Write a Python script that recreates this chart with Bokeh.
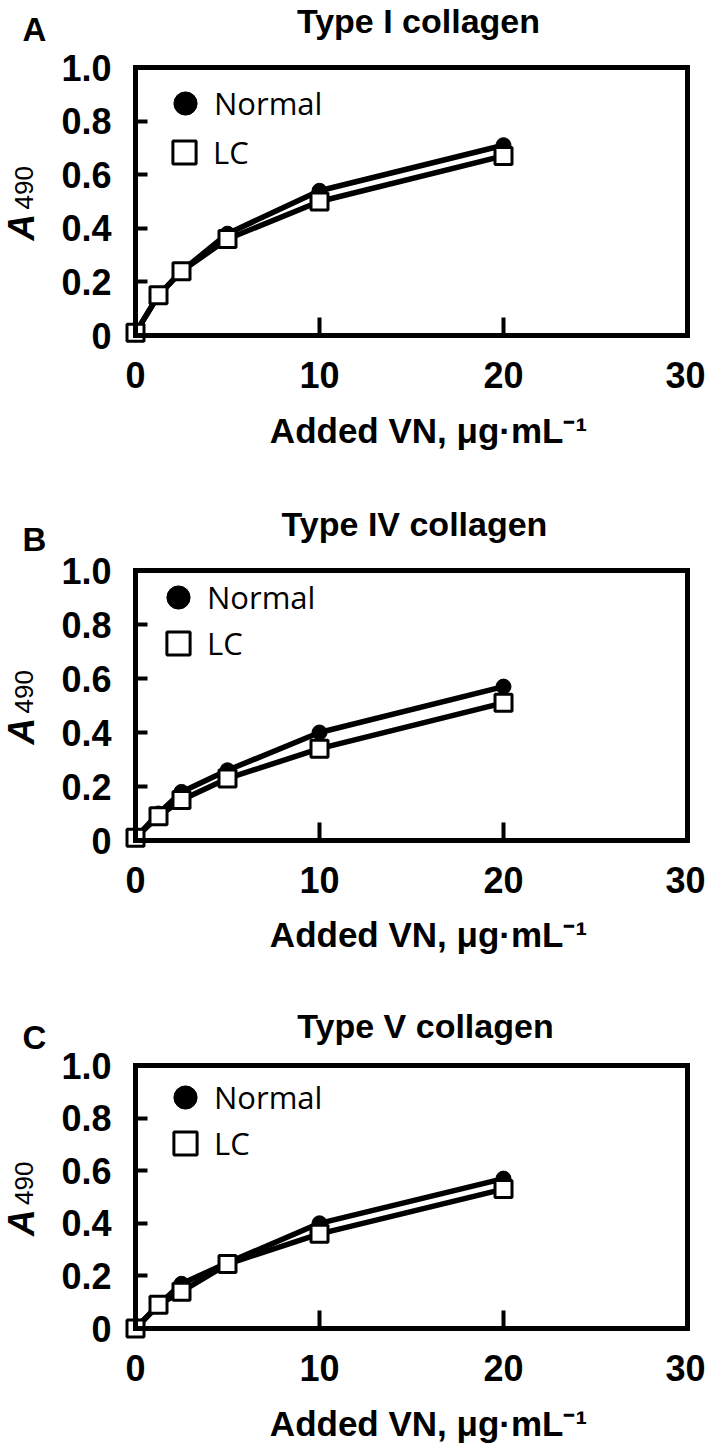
import math
from bokeh.plotting import figure
from bokeh.layouts import column
from bokeh.models import Label, Legend, LegendItem, FixedTicker, Range1d, LinearAxis
from bokeh.embed import file_html
from bokeh.resources import INLINE

# ---------------- data ----------------
vn_conc = [0, 1.25, 2.5, 5, 10, 20]          # added VN, ug/mL
panel_letters = ["A", "B", "C"]
panel_titles = ["Type I collagen", "Type IV collagen", "Type V collagen"]
normal_A = [0.01, 0.15, 0.24, 0.38, 0.54, 0.71]
lc_A = [0.01, 0.15, 0.24, 0.36, 0.50, 0.67]
normal_B = [0.01, 0.10, 0.18, 0.26, 0.40, 0.57]
lc_B = [0.01, 0.09, 0.15, 0.23, 0.34, 0.51]
normal_C = [0.0, 0.09, 0.17, 0.25, 0.40, 0.57]
lc_C = [0.0, 0.09, 0.14, 0.245, 0.36, 0.53]
series_names = ["Normal", "LC"]
x_ticks = [0, 10, 20, 30]
x_tick_labels = ["0", "10", "20", "30"]
y_ticks = [0, 0.2, 0.4, 0.6, 0.8, 1.0]
y_tick_labels = ["0", "0.2", "0.4", "0.6", "0.8", "1.0"]
x_label = "Added VN, \u03bcg\u00b7mL\u207b\u00b9"
y_label_main = "A"
y_label_sub = "490"
X_MIN, X_MAX = 0, 30
Y_MIN, Y_MAX = 0, 1.0

normals = [normal_A, normal_B, normal_C]
lcs = [lc_A, lc_B, lc_C]

# ---------------- layout / style (page pixels) ----------------
SANS_B = "'Liberation Sans', Arial, sans-serif"
PLAIN = "'Open Sans', 'Noto Sans', sans-serif"

W = 705
FRAME_L, FRAME_R = 135, 687
fig_top = [0, 500, 995]
fig_h = [500, 495, 452]
frame_top = [67, 570, 1065]
frame_bot = [335, 840, 1328]
title_x = [418, 414, 425]
title_base = [34, 537, 1039]
letter_base = [42, 552, 1050]
xlabel_x = 428
xlabel_base = [444, 948, 1437]
legend_circle = [(185, 103), (178, 597), (185, 1097)]
legend_square = [(184, 152), (178, 643), (185, 1143)]
GL = 58
BASE_SHIFT = 0.4   # label baseline correction, fraction of font size

TITLE_FS, LETTER_FS, XLAB_FS, YA_FS, YSUB_FS = 34, 33, 35, 37, 26

figs = []
for i in range(3):
    H = fig_h[i]
    ft = frame_top[i] - fig_top[i]
    fb = frame_bot[i] - fig_top[i]
    ppy = (fb - ft) / (Y_MAX - Y_MIN)
    ppx = (FRAME_R - FRAME_L) / (X_MAX - X_MIN)
    xr = Range1d(X_MIN - FRAME_L / ppx, X_MAX + (W - FRAME_R) / ppx)
    yr = Range1d(Y_MIN - (H - fb) / ppy, Y_MAX + ft / ppy)

    def sy(page_y):
        return H - (page_y - fig_top[i])

    p = figure(width=W, height=H, x_range=xr, y_range=yr,
               output_backend="svg", toolbar_location=None,
               min_border=0, min_border_left=0, min_border_right=0,
               min_border_top=0, min_border_bottom=0)
    p.title.visible = False
    p.background_fill_color = "white"
    p.border_fill_color = "white"
    p.grid.visible = False
    p.outline_line_color = None

    xa = p.below[0]
    ya = p.left[0]
    xa.fixed_location = Y_MIN
    ya.fixed_location = X_MIN
    xa.bounds = (X_MIN, X_MAX)
    ya.bounds = (Y_MIN, Y_MAX)
    for ax, ticks, labels, tin, sto in ((xa, x_ticks, x_tick_labels, 18, 26),
                                        (ya, y_ticks, y_tick_labels, 12, 24)):
        ax.ticker = FixedTicker(ticks=ticks)
        ax.major_label_overrides = {t: l for t, l in zip(ticks, labels)}
        ax.major_tick_in = tin
        ax.major_tick_out = 0
        ax.major_tick_line_width = 4
        ax.major_tick_line_color = "black"
        ax.minor_tick_line_color = None
        ax.axis_line_width = 5
        ax.axis_line_color = "black"
        ax.axis_line_cap = "square"
        ax.major_label_text_font = SANS_B
        ax.major_label_text_font_style = "bold"
        ax.major_label_text_font_size = "36px"
        ax.major_label_text_color = "black"
        ax.major_label_standoff = sto

    # top and right edges of the box
    top_ax = LinearAxis(fixed_location=Y_MAX, bounds=(X_MIN, X_MAX),
                        ticker=FixedTicker(ticks=[]), axis_line_width=5,
                        axis_line_cap="square", major_label_text_font_size="0px",
                        major_tick_line_color=None, minor_tick_line_color=None)
    right_ax = LinearAxis(fixed_location=X_MAX, bounds=(Y_MIN, Y_MAX),
                          ticker=FixedTicker(ticks=[]), axis_line_width=5,
                          axis_line_cap="square", major_label_text_font_size="0px",
                          major_tick_line_color=None, minor_tick_line_color=None)
    p.add_layout(top_ax, "above")
    p.add_layout(right_ax, "right")

    # data
    p.line(vn_conc, normals[i], line_color="black", line_width=5.5)
    rc = p.scatter(vn_conc, normals[i], marker="circle", size=15,
                   fill_color="black", line_color="black")
    p.line(vn_conc, lcs[i], line_color="black", line_width=5.5)
    rs = p.scatter(vn_conc, lcs[i], marker="square", size=17,
                   fill_color="white", line_color="black", line_width=3)

    # legend (one box per entry)
    for (cx, cy), name, rend in ((legend_circle[i], series_names[0], rc),
                                 (legend_square[i], series_names[1], rs)):
        lg = Legend(items=[LegendItem(label=name, renderers=[rend])],
                    location=(cx - GL / 2, sy(cy) - GL / 2),
                    glyph_width=GL, glyph_height=GL, spacing=0,
                    padding=0, margin=0, border_line_color=None,
                    background_fill_alpha=0, label_standoff=0,
                    label_text_font=PLAIN, label_text_font_size="31px",
                    label_text_color="black")
        p.add_layout(lg)

    # title
    p.add_layout(Label(x=title_x[i], y=sy(title_base[i] - BASE_SHIFT * TITLE_FS),
                       x_units="screen", y_units="screen",
                       text=panel_titles[i], text_align="center", text_baseline="alphabetic",
                       text_font=SANS_B, text_font_style="bold",
                       text_font_size=f"{TITLE_FS}px", text_color="black"))
    # panel letter
    p.add_layout(Label(x=22, y=sy(letter_base[i] - BASE_SHIFT * LETTER_FS),
                       x_units="screen", y_units="screen",
                       text=panel_letters[i], text_align="left", text_baseline="alphabetic",
                       text_font=SANS_B, text_font_style="bold",
                       text_font_size=f"{LETTER_FS}px", text_color="black"))
    # y axis label: A490
    fc = (frame_top[i] + frame_bot[i]) / 2
    p.add_layout(Label(x=36 - BASE_SHIFT * YA_FS, y=sy(fc + 39),
                       x_units="screen", y_units="screen",
                       text=y_label_main, angle=math.pi / 2, text_align="left",
                       text_baseline="alphabetic", text_font=SANS_B,
                       text_font_style="bold italic", text_font_size=f"{YA_FS}px",
                       text_color="black"))
    p.add_layout(Label(x=34 - BASE_SHIFT * YSUB_FS, y=sy(fc + 8),
                       x_units="screen", y_units="screen",
                       text=y_label_sub, angle=math.pi / 2, text_align="left",
                       text_baseline="alphabetic", text_font=SANS_B,
                       text_font_style="normal", text_font_size=f"{YSUB_FS}px",
                       text_color="black"))
    # x axis label
    p.add_layout(Label(x=xlabel_x, y=sy(xlabel_base[i] - BASE_SHIFT * XLAB_FS),
                       x_units="screen", y_units="screen",
                       text=x_label, text_align="center", text_baseline="alphabetic",
                       text_font=SANS_B, text_font_style="bold",
                       text_font_size=f"{XLAB_FS}px", text_color="black"))
    figs.append(p)

layout = column(*figs, spacing=0)
open("out.html", "w").write(file_html(layout, INLINE))
